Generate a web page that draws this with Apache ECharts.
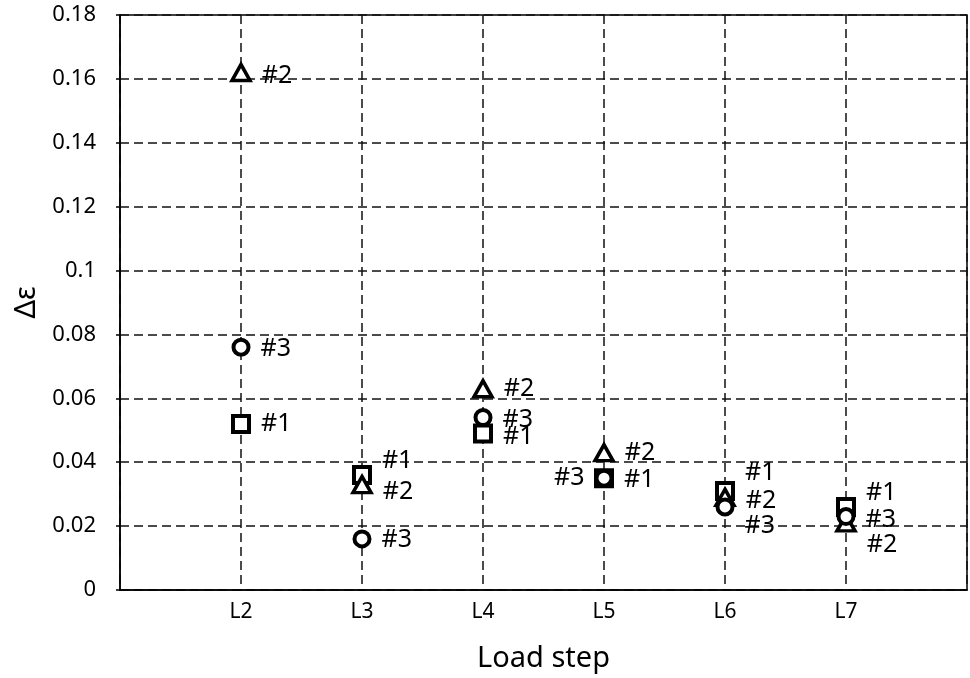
<!DOCTYPE html>
<html>
<head>
<meta charset="utf-8">
<script src="https://cdn.jsdelivr.net/npm/echarts@6/dist/echarts.min.js"></script>
<style>html,body{margin:0;padding:0;background:#fff}#c{width:970px;height:678px}</style>
</head>
<body>
<div id="c"></div>
<script>
// ---- data ----
const categories = ['L2', 'L3', 'L4', 'L5', 'L6', 'L7'];
const yTicks = [0, 0.02, 0.04, 0.06, 0.08, 0.1, 0.12, 0.14, 0.16, 0.18];
const seriesNames = ['#1', '#2', '#3'];
const s1Values = [0.052, 0.036, 0.049, 0.035, 0.031, 0.026]; // squares
const s2Values = [0.162, 0.033, 0.063, 0.043, 0.029, 0.021]; // triangles
const s3Values = [0.076, 0.016, 0.054, 0.035, 0.026, 0.023]; // circles

// ---- label placement (style only) ----
const s1LabelOffsets = [[0, 0], [0, -14], [0, 3], [0, 2], [0, -18], [0, -14]];
const s2LabelOffsets = [[0, 3], [0, 7], [0, 0], [0, 0], [0, 4], [0, 22]];
const s3LabelOffsets = [[0, 2], [0, 1], [0, 2], [0, 0], [0, 19], [0, 3]];
const s3LabelPos = ['right', 'right', 'right', 'left', 'right', 'right'];

const FONT = 'Noto Sans';

function buildData(values, offsets, positions) {
  return values.map((v, i) => ({
    value: [i + 2, v],
    label: { position: positions ? positions[i] : 'right', offset: offsets[i] }
  }));
}

function mkSeries(name, symbol, size, bw, values, offsets, positions) {
  return {
    type: 'scatter',
    name: name,
    symbol: symbol,
    symbolSize: size,
    itemStyle: { color: '#fff', borderColor: '#000', borderWidth: bw, opacity: 1 },
    label: {
      show: true,
      formatter: name,
      color: '#000',
      fontFamily: FONT,
      fontSize: 25,
      distance: 10
    },
    emphasis: { disabled: true },
    data: buildData(values, offsets, positions)
  };
}

const chart = echarts.init(document.getElementById('c'), null, { renderer: 'canvas' });
chart.setOption({
  animation: false,
  backgroundColor: '#fff',
  grid: {
    left: 120, right: 2, top: 15, bottom: 87,
    show: true, borderColor: '#000', borderWidth: 1.5, backgroundColor: '#fff'
  },
  xAxis: {
    type: 'value',
    min: 1, max: 8, interval: 1,
    name: 'Load step',
    nameLocation: 'middle',
    nameGap: 54,
    nameTextStyle: { fontFamily: FONT, fontSize: 29, color: '#000' },
    axisLine: { show: true, lineStyle: { color: '#000', width: 1.5 } },
    axisTick: { show: false },
    axisLabel: {
      fontFamily: FONT, fontSize: 21, color: '#000', margin: 12,
      formatter: v => categories[v - 2] || ''
    },
    splitLine: { show: true, lineStyle: { color: '#111', width: 1.5, type: [9, 5] } }
  },
  yAxis: {
    type: 'value',
    min: 0, max: 0.18, interval: 0.02,
    name: 'Δε',
    nameLocation: 'middle',
    nameGap: 66,
    nameRotate: 90,
    nameTextStyle: { fontFamily: FONT, fontSize: 29, color: '#000' },
    axisLine: { show: true, lineStyle: { color: '#000', width: 1.5 } },
    axisTick: { show: true, inside: false, length: 4, lineStyle: { color: '#000', width: 1.5 } },
    axisLabel: {
      fontFamily: FONT, fontSize: 22, color: '#000', margin: 24,
      formatter: v => { const t = yTicks.find(x => Math.abs(x - v) < 1e-9); return String(t !== undefined ? t : v); }
    },
    splitLine: { show: true, lineStyle: { color: '#111', width: 1.5, type: [9, 5] } }
  },
  series: [
    mkSeries(seriesNames[0], 'rect', 16, 4, s1Values, s1LabelOffsets),
    mkSeries(seriesNames[1], 'triangle', [18, 16], 3.5, s2Values, s2LabelOffsets),
    mkSeries(seriesNames[2], 'circle', 15, 4, s3Values, s3LabelOffsets, s3LabelPos)
  ]
});
</script>
</body>
</html>
